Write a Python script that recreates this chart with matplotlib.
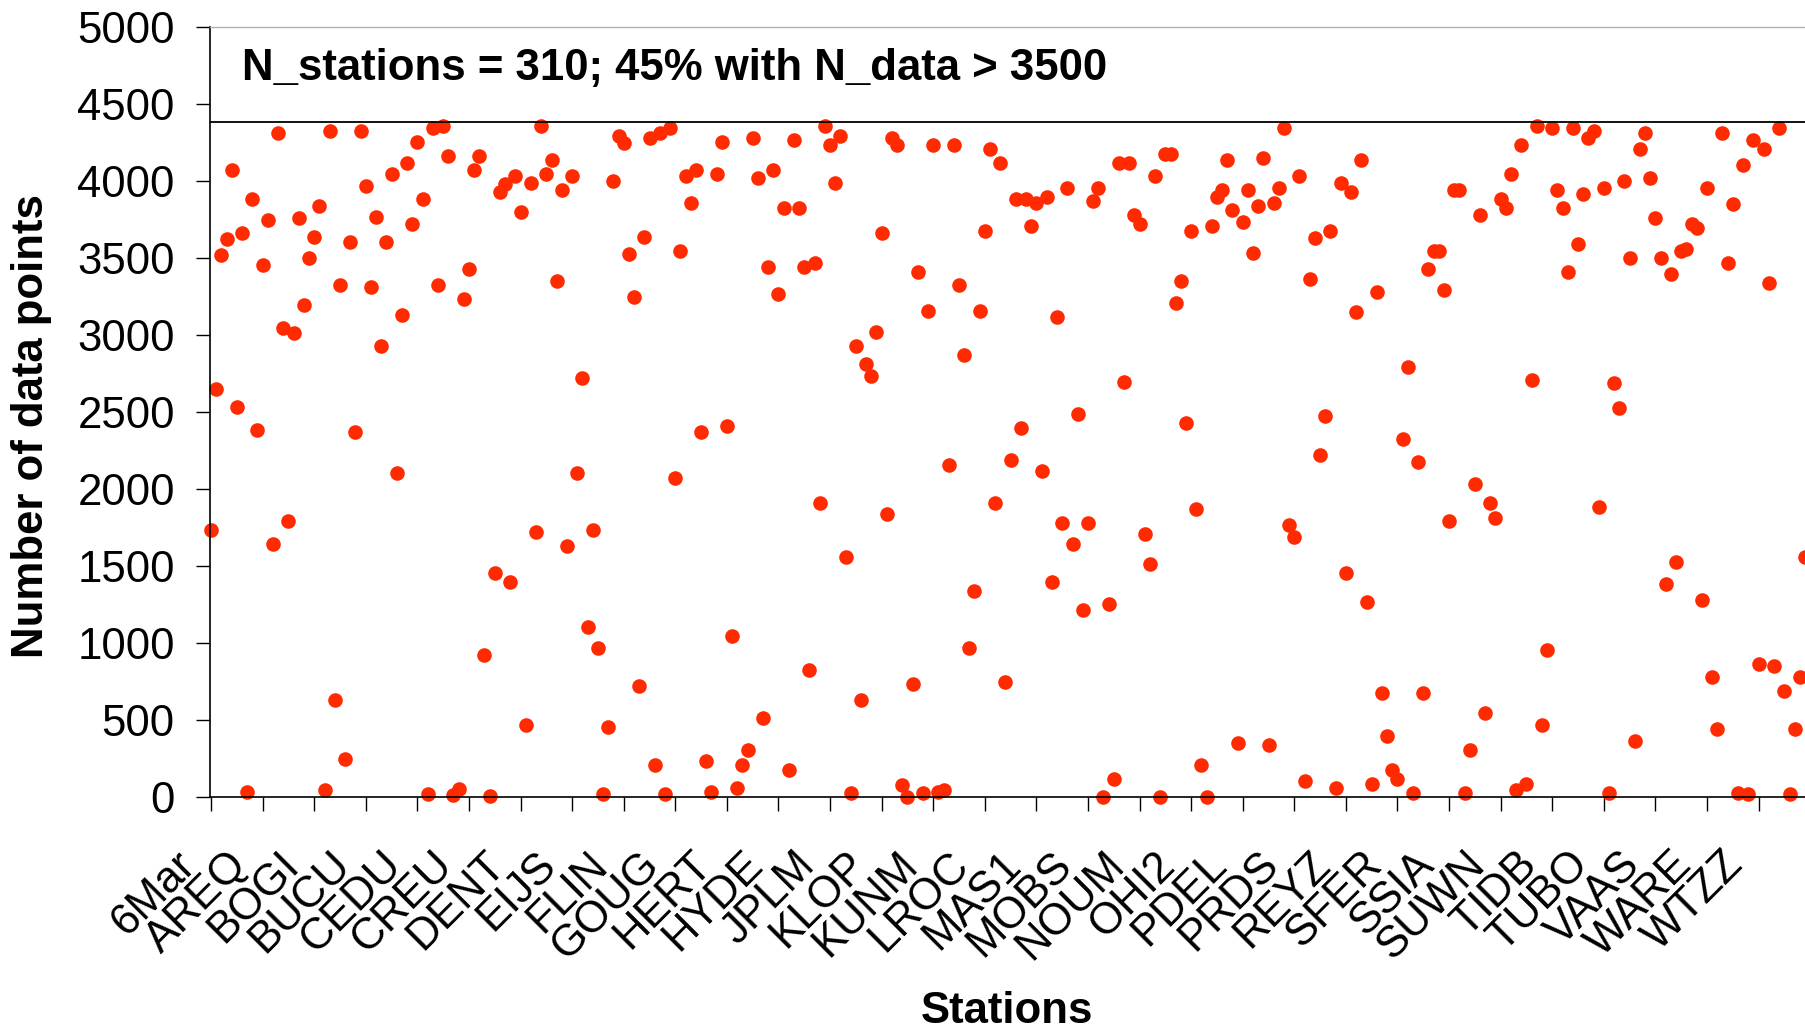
import numpy as np
import matplotlib
matplotlib.use('Agg')
import matplotlib.pyplot as plt
import matplotlib.transforms as mtransforms

plt.rcParams['font.family'] = ['Liberation Sans', 'DejaVu Sans']

# number of data points per station, in station order (310 stations)
n_data = [
    1737, 2649, 3517, 3621, 4074, 2531, 3661, 30, 3883, 2384,
    3454, 3749, 1646, 4309, 3044, 1794, 3011, 3762, 3192, 3501,
    3635, 3839, 44, 4325, 630, 3326, 248, 3604, 2367, 4325,
    3970, 3309, 3765, 2927, 3604, 4044, 2102, 3132, 4117, 3722,
    4252, 3883, 17, 4342, 3326, 4359, 4161, 10, 54, 3236,
    3430, 4074, 4164, 925, 7, 1455, 3926, 3983, 1395, 4030,
    3796, 469, 3987, 1720, 4355, 4044, 4134, 3353, 3940, 1630,
    4030, 2102, 2723, 1103, 1734, 969, 17, 453, 4000, 4292,
    4248, 3527, 3249, 721, 3635, 4278, 208, 4309, 17, 4342,
    2072, 3547, 4030, 3856, 4074, 2367, 235, 30, 4044, 4252,
    2411, 1043, 57, 208, 308, 4278, 4017, 513, 3444, 4074,
    3266, 3826, 178, 4265, 3826, 3440, 825, 3467, 1911, 4355,
    4235, 3987, 4292, 1559, 27, 2927, 630, 2810, 2736, 3018,
    3661, 1837, 4282, 4235, 77, 3, 731, 3410, 23, 3159,
    4235, 34, 44, 2159, 4235, 3323, 2867, 969, 1338, 3159,
    3675, 4205, 1911, 4117, 748, 2190, 3883, 2397, 3883, 3705,
    3856, 2119, 3896, 1395, 3118, 1780, 3957, 1646, 2488, 1217,
    1780, 3869, 3957, 3, 1251, 117, 4117, 2692, 4117, 3782,
    3722, 1707, 1516, 4030, 0, 4174, 4174, 3205, 3353, 2428,
    3675, 1868, 208, 0, 3705, 3896, 3943, 4134, 3809, 352,
    3735, 3943, 3531, 3839, 4148, 339, 3856, 3957, 4342, 1767,
    1690, 4030, 104, 3366, 3631, 2220, 2471, 3675, 60, 3987,
    1455, 3926, 3148, 4134, 1264, 87, 3276, 677, 399, 178,
    117, 2324, 2793, 27, 2176, 677, 3427, 3544, 3544, 3293,
    1794, 3940, 3940, 27, 308, 2032, 3779, 543, 1911, 1811,
    3883, 3822, 4044, 44, 4235, 87, 2706, 4355, 469, 956,
    4342, 3943, 3822, 3410, 4342, 3588, 3913, 4278, 4322, 1881,
    3957, 27, 2689, 2528, 4000, 3497, 365, 4205, 4309, 4017,
    3762, 3497, 1381, 3393, 1529, 3544, 3558, 3722, 3695, 1277,
    3957, 778, 439, 4309, 3467, 3853, 27, 4101, 17, 4265,
    865, 4205, 3336, 848, 4342, 691, 17, 439, 778, 1559,
]

tick_names = ['6Mar', 'AREQ', 'BOGI', 'BUCU', 'CEDU', 'CREU', 'DENT', 'EIJS',
              'FLIN', 'GOUG', 'HERT', 'HYDE', 'JPLM', 'KLOP', 'KUNM', 'LROC',
              'MAS1', 'MOBS', 'NOUM', 'OHI2', 'PDEL', 'PRDS', 'REYZ', 'SFER',
              'SSIA', 'SUWN', 'TIDB', 'TUBO', 'VAAS', 'WARE', 'WTZZ']

n_limit = 4383
stations = np.arange(1, len(n_data) + 1)
tick_pos = stations[::10]

W, H = 1805, 1034
fig = plt.figure(figsize=(W / 100, H / 100), dpi=100)
ax = fig.add_axes([209.5 / W, 237 / H, 1 - 209.5 / W, 770 / H])

ax.plot(stations, n_data, 'o', color='#ff2a00', ms=10.5, mew=0, clip_on=False)
ax.axhline(n_limit, color='black', lw=1.3)

ax.set_xlim(0.7, 310.0)
ax.set_ylim(0, 5000)
ax.set_yticks(np.arange(0, 5001, 500))
ax.set_xticks(tick_pos)
ax.set_xticklabels(tick_names, rotation=45, ha='right', va='baseline',
                   rotation_mode='anchor')
ax.tick_params(axis='both', direction='out', length=10, width=1.0,
               labelsize=31.5)
ax.tick_params(axis='y', pad=15)
ax.tick_params(axis='x', pad=40)

# shift rotated labels so their end sits left of the tick, like the original
offset = mtransforms.ScaledTranslation(-0.14, 0, fig.dpi_scale_trans)
for lab in ax.get_xticklabels():
    lab.set_transform(lab.get_transform() + offset)

ax.spines['right'].set_visible(False)
ax.spines['top'].set_color('#b0b0b0')
ax.spines['top'].set_linewidth(1.0)
ax.spines['left'].set_linewidth(1.2)
ax.spines['bottom'].set_linewidth(1.2)

fig.text(241.7 / W, 1 - 80 / H, 'N_stations = 310; 45% with N_data > 3500',
         fontsize=31.5, fontweight='bold', ha='left', va='baseline')
fig.text(31.5 / W, 1 - 426 / H, 'Number of data points', rotation=90,
         fontsize=31.5, fontweight='bold', ha='center', va='center')
fig.text(1007 / W, 11 / H, 'Stations', fontsize=31.5, fontweight='bold',
         ha='center', va='baseline')

fig.savefig('out.png', dpi=100)
